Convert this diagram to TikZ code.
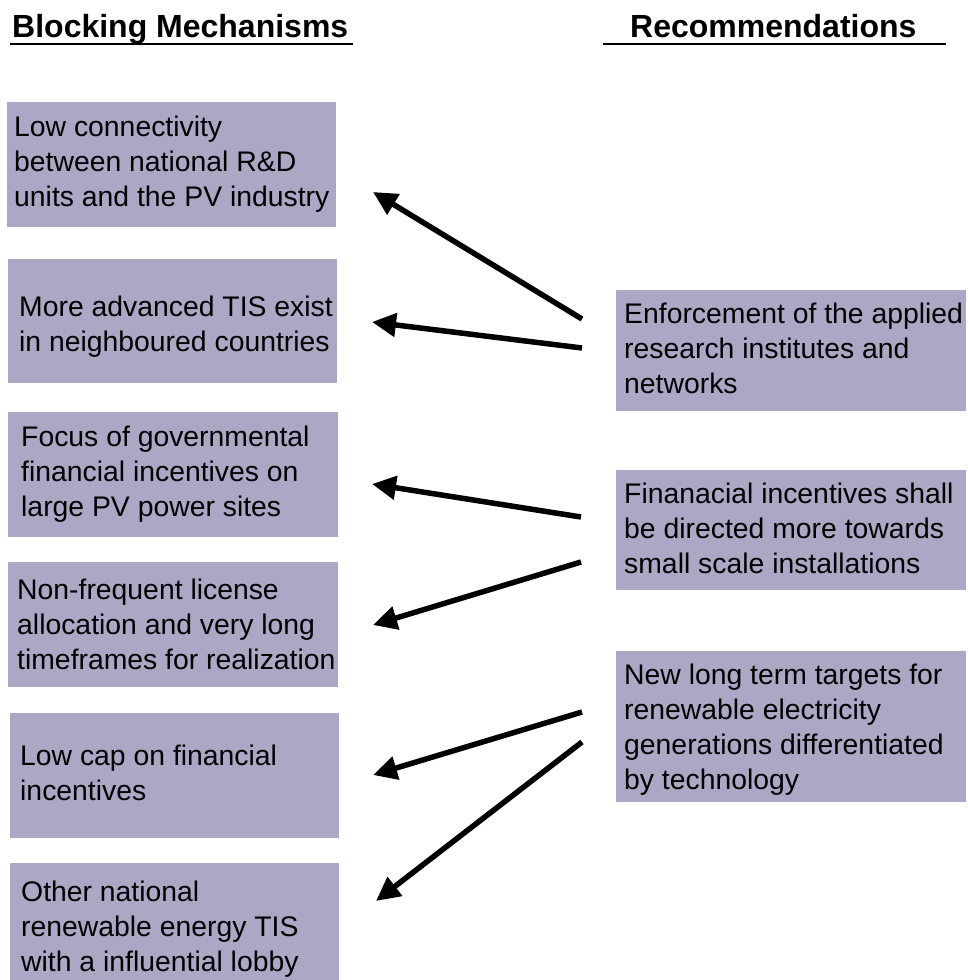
\documentclass[tikz,border=0pt]{standalone}
\usepackage{fontspec}
\setmainfont{Liberation Sans}
\usetikzlibrary{arrows.meta}
\definecolor{boxfill}{RGB}{173,167,197}
\begin{document}
\begin{tikzpicture}[x=1pt,y=-1pt,
  box/.style={fill=boxfill,draw=none,inner sep=0pt,anchor=north west},
  txt/.style={anchor=base west,inner sep=0pt,align=left,font=\fontsize{28.35}{35}\selectfont},
  head/.style={anchor=base west,inner sep=0pt,font=\fontsize{32}{38}\selectfont\bfseries},
  uline/.style={line width=2.5pt},
  arr/.style={line width=5.5pt,-{Triangle[length=24pt,width=23pt]}}]
\useasboundingbox (0,0) rectangle (967,980);
% headings
\node[head] (h1) at (12,37) {Blocking Mechanisms};
\node[head] (h2) at (630,37) {Recommendations};
\coordinate (u1a) at (10,44); \coordinate (u1b) at (353,44);
\coordinate (u2a) at (603,44); \coordinate (u2b) at (946,44);
\draw[uline] (u1a) -- (u1b);
\draw[uline] (u2a) -- (u2b);
% left boxes (text nodes anchored at the baseline of their last line)
\node[box,minimum width=329pt,minimum height=125pt] (b1) at (7,102) {};
\node[txt] (t1) at (14,206) {Low connectivity\\between national R\&D\\units and the PV industry};
\node[box,minimum width=329pt,minimum height=124pt] (b2) at (8,259) {};
\node[txt] (t2) at (19,351) {More advanced TIS exist\\in neighboured countries};
\node[box,minimum width=330pt,minimum height=125pt] (b3) at (8,412) {};
\node[txt] (t3) at (21,516) {Focus of governmental\\financial incentives on\\large PV power sites};
\node[box,minimum width=330pt,minimum height=125pt] (b4) at (8,562) {};
\node[txt] (t4) at (17,669) {Non-frequent license\\allocation and very long\\timeframes for realization};
\node[box,minimum width=329pt,minimum height=125pt] (b5) at (10,713) {};
\node[txt] (t5) at (20,800) {Low cap on financial\\incentives};
\node[box,minimum width=329pt,minimum height=117pt] (b6) at (10,863) {};
\node[txt] (t6) at (21,971) {Other national\\renewable energy TIS\\with a influential lobby};
% right boxes
\node[box,minimum width=350pt,minimum height=121pt] (r1) at (616,290) {};
\node[txt] (s1) at (624,393) {Enforcement of the applied\\research institutes and\\networks};
\node[box,minimum width=350pt,minimum height=120pt] (r2) at (616,470) {};
\node[txt] (s2) at (624,573) {Finanacial incentives shall\\be directed more towards\\small scale installations};
\node[box,minimum width=350pt,minimum height=151pt] (r3) at (616,651) {};
\node[txt] (s3) at (624,789) {New long term targets for\\renewable electricity\\generations differentiated\\by technology};
% arrows
\coordinate (a1s) at (582,319); \coordinate (a1e) at (373,192);
\coordinate (a2s) at (582,348); \coordinate (a2e) at (372,322);
\coordinate (a3s) at (581,517); \coordinate (a3e) at (372,484);
\coordinate (a4s) at (581,562); \coordinate (a4e) at (373,625);
\coordinate (a5s) at (582,712); \coordinate (a5e) at (373,775);
\coordinate (a6s) at (582,742); \coordinate (a6e) at (376,901);
\draw[arr] (a1s) -- (a1e);
\draw[arr] (a2s) -- (a2e);
\draw[arr] (a3s) -- (a3e);
\draw[arr] (a4s) -- (a4e);
\draw[arr] (a5s) -- (a5e);
\draw[arr] (a6s) -- (a6e);
\end{tikzpicture}
\end{document}
